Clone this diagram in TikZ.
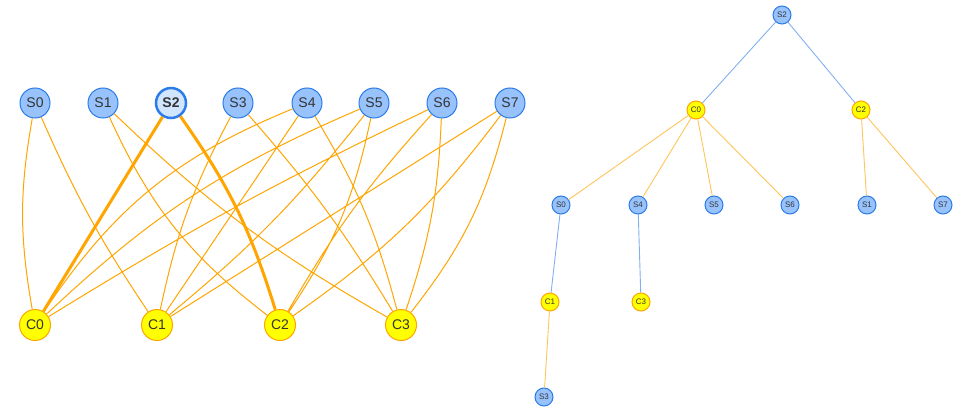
\documentclass[tikz,border=0pt]{standalone}
\usepackage{fontspec}
\setmainfont{Liberation Sans}
\definecolor{sfill}{HTML}{97C2FC}
\definecolor{sline}{HTML}{2B7CE9}
\definecolor{selfill}{HTML}{D2E5FF}
\definecolor{cfill}{HTML}{FFFF00}
\definecolor{cline}{HTML}{FFA500}
\definecolor{txt}{HTML}{343434}
\definecolor{tblue}{HTML}{84AEF2}
\definecolor{torange}{HTML}{FFC55A}

\begin{document}
\begin{tikzpicture}[x=1pt,y=-1pt,
        snode/.style={circle,draw=sline,fill=sfill,line width=1pt,minimum size=30pt,inner sep=0pt,text=txt,font=\fontsize{14}{14}\selectfont},
        cnode/.style={circle,draw=cline,fill=cfill,line width=1pt,minimum size=31pt,inner sep=0pt,text=txt,font=\fontsize{14}{14}\selectfont},
        tsnode/.style={snode,minimum size=18pt,font=\fontsize{8}{8}\selectfont},
        tcnode/.style={cnode,minimum size=18pt,font=\fontsize{8}{8}\selectfont},
        cedge/.style={draw=cline,line width=1pt},
        bedge/.style={draw=tblue,line width=0.9pt},
        oedge/.style={draw=torange,line width=0.9pt}]
        \useasboundingbox (0,0) rectangle (962,417);
        % bipartite graph
        \node[snode] (s0) at (35,103)  {S0};
        \node[snode] (s1) at (103,103) {S1};
        \node[snode,fill=selfill,line width=2.5pt,font=\fontsize{14}{14}\selectfont\bfseries] (s2) at (171,103) {S2};
        \node[snode] (s3) at (238,103) {S3};
        \node[snode] (s4) at (307,103) {S4};
        \node[snode] (s5) at (374,103) {S5};
        \node[snode] (s6) at (442,103) {S6};
        \node[snode] (s7) at (510,103) {S7};
        \node[cnode] (c0) at (35,325)  {C0};
        \node[cnode] (c1) at (157,325) {C1};
        \node[cnode] (c2) at (280,325) {C2};
        \node[cnode] (c3) at (401,325) {C3};
        \draw[cedge] (s0) to[bend right=10] (c0)
              (s0) to[bend right=5] (c1)
              (s1) to[bend right=14] (c2)
              (s1) to[bend right=7] (c3)
              (s3) to[bend right=8] (c1)
              (s3) to[bend left=5] (c3)
              (s4) to[bend right=17] (c0)
              (s4) -- (c1)
              (s4) to[bend left=8] (c3)
              (s5) to[bend right=10] (c0)
              (s5) to[bend left=6] (c1)
              (s5) to[bend left=11] (c2)
              (s6) to[bend right=3] (c0)
              (s6) to[bend right=6] (c2)
              (s6) to[bend left=8] (c3)
              (s7) -- (c1)
              (s7) to[bend left=9] (c2)
              (s7) to[bend left=12] (c3);
        \draw[cedge,line width=3pt] (s2) -- (c0)
              (s2) to[bend left=9] (c2);
        % tree
        \node[tsnode] (ts2) at (782,15)  {S2};
        \node[tcnode] (tc0) at (696,110) {C0};
        \node[tcnode] (tc2) at (861,110) {C2};
        \node[tsnode] (ts0) at (561,205) {S0};
        \node[tsnode] (ts4) at (638,205) {S4};
        \node[tsnode] (ts5) at (714,205) {S5};
        \node[tsnode] (ts6) at (790,205) {S6};
        \node[tsnode] (ts1) at (867,205) {S1};
        \node[tsnode] (ts7) at (943,205) {S7};
        \node[tcnode] (tc1) at (550,302) {C1};
        \node[tcnode] (tc3) at (641,302) {C3};
        \node[tsnode] (ts3) at (544,397) {S3};
        \draw[bedge] (ts2) -- (tc0)
              (ts2) -- (tc2)
              (ts0) -- (tc1)
              (ts4) -- (tc3);
        \draw[oedge] (tc0) -- (ts0)
              (tc0) -- (ts4)
              (tc0) -- (ts5)
              (tc0) -- (ts6)
              (tc2) -- (ts1)
              (tc2) -- (ts7)
              (tc1) -- (ts3);
\end{tikzpicture}
\end{document}
